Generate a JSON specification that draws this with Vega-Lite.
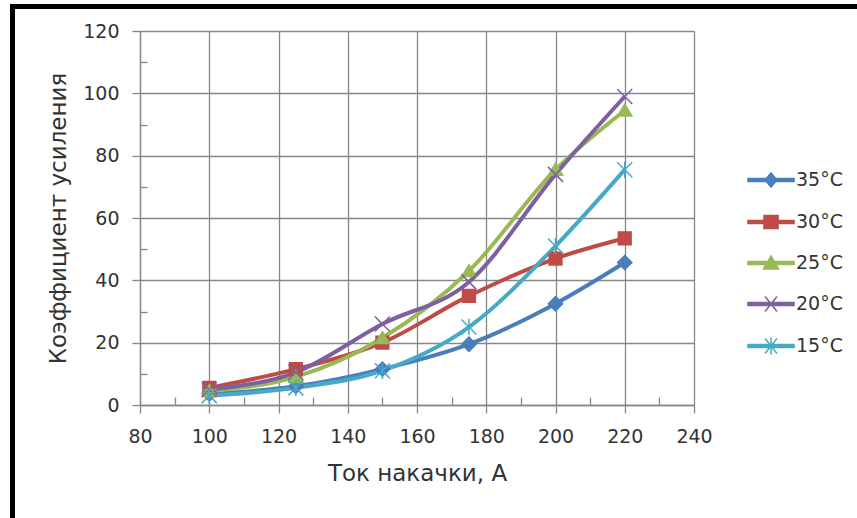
{
  "$schema": "https://vega.github.io/schema/vega-lite/v6.json",
  "background": "white",
  "padding": {"left": 10, "top": 4, "right": 0, "bottom": 0},
  "spacing": 0,
  "config": {
    "font": "DejaVu Sans",
    "view": {"stroke": null},
    "axis": {
      "labelFont": "DejaVu Sans",
      "labelFontSize": 19,
      "labelColor": "#333333",
      "titleFont": "DejaVu Sans",
      "titleFontSize": 23,
      "titleFontWeight": "normal",
      "titleColor": "#333333",
      "domainColor": "#878787",
      "domainWidth": 1.3,
      "tickColor": "#878787",
      "tickWidth": 1.3,
      "gridColor": "#878787",
      "gridWidth": 1.3,
      "gridOpacity": 1
    },
    "legend": {
      "orient": "none",
      "legendX": 742,
      "legendY": 157,
      "title": null,
      "padding": 0,
      "symbolSize": 1296,
      "symbolStrokeWidth": 1.5,
      "labelOffset": 6,
      "rowPadding": 12,
      "labelFont": "DejaVu Sans",
      "labelFontSize": 19,
      "labelColor": "#333333"
    }
  },
  "vconcat": [
    {
      "width": 847,
      "height": 5,
      "view": {"fill": "black", "stroke": null},
      "data": {"values": [{}]},
      "mark": {"type": "text", "fontSize": 1},
      "encoding": {"text": {"value": ""}}
    },
    {
      "spacing": 32,
      "hconcat": [
        {
          "width": 5,
          "height": 509,
          "view": {"fill": "black", "stroke": null},
          "data": {"values": [{}]},
          "mark": {"type": "text", "fontSize": 1},
          "encoding": {"text": {"value": ""}}
        },
        {
          "spacing": 0,
          "vconcat": [
            {
              "width": 1,
              "height": 13,
              "data": {"values": [{}]},
              "mark": {"type": "text", "fontSize": 1},
              "encoding": {"text": {"value": ""}}
            },
            {
              "width": 554,
              "height": 374,
              "data": {
                "values": [
                  {"temp": "35°C", "current": 100, "gain": 3.5},
                  {"temp": "35°C", "current": 125, "gain": 6},
                  {"temp": "35°C", "current": 150, "gain": 11.5},
                  {"temp": "35°C", "current": 175, "gain": 19.5},
                  {"temp": "35°C", "current": 200, "gain": 32.5},
                  {"temp": "35°C", "current": 220, "gain": 45.7},
                  {"temp": "30°C", "current": 100, "gain": 5.5},
                  {"temp": "30°C", "current": 125, "gain": 11.5},
                  {"temp": "30°C", "current": 150, "gain": 20},
                  {"temp": "30°C", "current": 175, "gain": 35},
                  {"temp": "30°C", "current": 200, "gain": 47},
                  {"temp": "30°C", "current": 220, "gain": 53.5},
                  {"temp": "25°C", "current": 100, "gain": 4.5},
                  {"temp": "25°C", "current": 125, "gain": 9},
                  {"temp": "25°C", "current": 150, "gain": 21.5},
                  {"temp": "25°C", "current": 175, "gain": 43},
                  {"temp": "25°C", "current": 200, "gain": 75.5},
                  {"temp": "25°C", "current": 220, "gain": 94.5},
                  {"temp": "20°C", "current": 100, "gain": 5},
                  {"temp": "20°C", "current": 125, "gain": 10.5},
                  {"temp": "20°C", "current": 150, "gain": 26},
                  {"temp": "20°C", "current": 175, "gain": 39.5},
                  {"temp": "20°C", "current": 200, "gain": 74},
                  {"temp": "20°C", "current": 220, "gain": 99},
                  {"temp": "15°C", "current": 100, "gain": 3},
                  {"temp": "15°C", "current": 125, "gain": 5.5},
                  {"temp": "15°C", "current": 150, "gain": 11},
                  {"temp": "15°C", "current": 175, "gain": 25},
                  {"temp": "15°C", "current": 200, "gain": 51},
                  {"temp": "15°C", "current": 220, "gain": 75.5}
                ]
              },
              "resolve": {"axis": {"x": "independent", "y": "independent"}},
              "layer": [
                {
                  "mark": {"type": "line", "strokeWidth": 4, "interpolate": "monotone"},
                  "encoding": {
                    "x": {
                      "field": "current",
                      "type": "quantitative",
                      "scale": {"domain": [80, 240], "nice": false, "zero": false},
                      "axis": {
                        "orient": "bottom",
                        "values": [80, 100, 120, 140, 160, 180, 200, 220, 240],
                        "tickSize": 8,
                        "labelPadding": 14,
                        "titlePadding": 16,
                        "grid": true,
                        "labelFlush": false,
                        "labelOverlap": false
                      },
                      "title": "Ток накачки, А"
                    },
                    "y": {
                      "field": "gain",
                      "type": "quantitative",
                      "scale": {"domain": [0, 120], "nice": false},
                      "axis": {
                        "orient": "left",
                        "values": [0, 20, 40, 60, 80, 100, 120],
                        "tickSize": 8,
                        "labelPadding": 13,
                        "titlePadding": 12,
                        "grid": true,
                        "labelOverlap": false
                      },
                      "title": "Коэффициент усиления"
                    },
                    "color": {
                      "field": "temp",
                      "type": "nominal",
                      "scale": {
                        "domain": ["35°C", "30°C", "25°C", "20°C", "15°C"],
                        "range": ["#4A7EBB", "#BE4B48", "#98B954", "#7D60A0", "#46AAC5"]
                      }
                    }
                  }
                },
                {
                  "transform": [{"filter": "datum.temp === '35°C'"}],
                  "mark": {"type": "point", "shape": "M0,-0.95L0.95,0L0,0.95L-0.95,0Z", "filled": true, "size": 225, "strokeWidth": 1.5, "opacity": 1, "fill": "#4A7EBB", "stroke": "#4A7EBB"},
                  "encoding": {
                    "x": {
                      "field": "current",
                      "type": "quantitative",
                      "axis": {
                        "orient": "bottom",
                        "values": [90, 110, 130, 150, 170, 190, 210, 230],
                        "tickSize": -8,
                        "labels": false,
                        "domain": false,
                        "grid": false,
                        "title": null
                      }
                    },
                    "y": {
                      "field": "gain",
                      "type": "quantitative",
                      "axis": {
                        "orient": "left",
                        "values": [10, 30, 50, 70, 90, 110],
                        "tickSize": -7,
                        "labels": false,
                        "domain": false,
                        "grid": false,
                        "title": null
                      }
                    }
                  }
                },
                {
                  "transform": [{"filter": "datum.temp === '30°C'"}],
                  "mark": {"type": "point", "shape": "M-0.85,-0.85H0.85V0.85H-0.85Z", "filled": true, "size": 225, "strokeWidth": 1.5, "opacity": 1, "fill": "#BE4B48", "stroke": "#BE4B48"},
                  "encoding": {
                    "x": {"field": "current", "type": "quantitative", "axis": null},
                    "y": {"field": "gain", "type": "quantitative", "axis": null}
                  }
                },
                {
                  "transform": [{"filter": "datum.temp === '25°C'"}],
                  "mark": {"type": "point", "shape": "M0,-0.85L0.95,0.75L-0.95,0.75Z", "filled": true, "size": 225, "strokeWidth": 1.5, "opacity": 1, "fill": "#98B954", "stroke": "#98B954"},
                  "encoding": {
                    "x": {"field": "current", "type": "quantitative", "axis": null},
                    "y": {"field": "gain", "type": "quantitative", "axis": null}
                  }
                },
                {
                  "transform": [{"filter": "datum.temp === '20°C'"}],
                  "mark": {"type": "point", "shape": "M-1,-1L1,1M-1,1L1,-1", "filled": true, "size": 225, "strokeWidth": 1.5, "opacity": 1, "fill": "#7D60A0", "stroke": "#7D60A0"},
                  "encoding": {
                    "x": {"field": "current", "type": "quantitative", "axis": null},
                    "y": {"field": "gain", "type": "quantitative", "axis": null}
                  }
                },
                {
                  "transform": [{"filter": "datum.temp === '15°C'"}],
                  "mark": {"type": "point", "shape": "M-1,-1L1,1M-1,1L1,-1M0,-1.1V1.1", "filled": true, "size": 225, "strokeWidth": 1.5, "opacity": 1, "fill": "#46AAC5", "stroke": "#46AAC5"},
                  "encoding": {
                    "x": {"field": "current", "type": "quantitative", "axis": null},
                    "y": {"field": "gain", "type": "quantitative", "axis": null}
                  }
                },
                {
                  "transform": [{"filter": "false"}],
                  "mark": {"type": "point", "filled": true, "size": 1296, "strokeWidth": 1.5, "opacity": 1},
                  "encoding": {
                    "x": {"field": "current", "type": "quantitative", "axis": null},
                    "y": {"field": "gain", "type": "quantitative", "axis": null},
                    "color": {
                      "field": "temp",
                      "type": "nominal",
                      "scale": {
                        "domain": ["35°C", "30°C", "25°C", "20°C", "15°C"],
                        "range": ["#4A7EBB", "#BE4B48", "#98B954", "#7D60A0", "#46AAC5"]
                      }
                    },
                    "stroke": {
                      "field": "temp",
                      "type": "nominal",
                      "scale": {
                        "domain": ["35°C", "30°C", "25°C", "20°C", "15°C"],
                        "range": ["#4A7EBB", "#BE4B48", "#98B954", "#7D60A0", "#46AAC5"]
                      }
                    },
                    "shape": {
                      "field": "temp",
                      "type": "nominal",
                      "scale": {
                        "domain": ["35°C", "30°C", "25°C", "20°C", "15°C"],
                        "range": [
                          "M-1.28,-0.09H1.28V0.09H-1.28Z M0,-0.39L0.33,0L0,0.39L-0.33,0Z",
                          "M-1.28,-0.09H1.28V0.09H-1.28Z M-0.39,-0.36H0.39V0.36H-0.39Z",
                          "M-1.28,-0.09H1.28V0.09H-1.28Z M0,-0.39L0.42,0.33L-0.42,0.33Z",
                          "M-1.28,-0.09H1.28V0.09H-1.28Z M-0.33,-0.42L0.33,0.42M-0.33,0.42L0.33,-0.42",
                          "M-1.28,-0.09H1.28V0.09H-1.28Z M-0.33,-0.42L0.33,0.42M-0.33,0.42L0.33,-0.42M0,-0.47V0.47"
                        ]
                      }
                    }
                  }
                }
              ]
            }
          ]
        }
      ]
    }
  ]
}
